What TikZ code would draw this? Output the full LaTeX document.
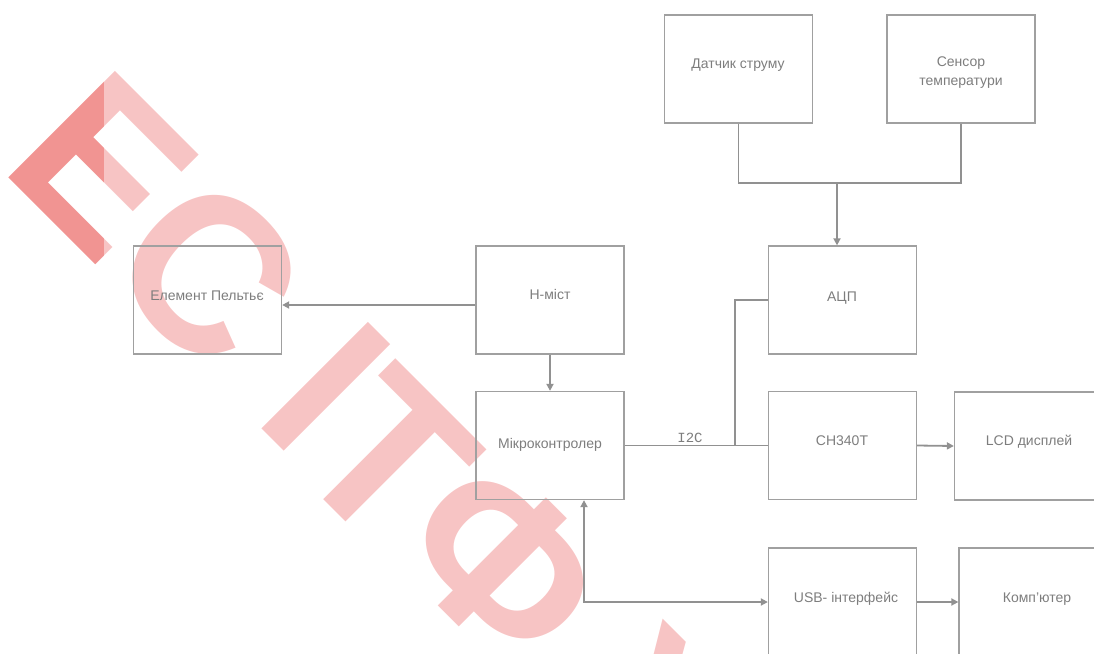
\documentclass[tikz,border=0pt]{standalone}
\usepackage{fontspec}
\setmainfont{Liberation Sans}
\newfontfamily\wmfont{Liberation Sans}
\newfontfamily\monofont{Liberation Mono}
\usetikzlibrary{arrows.meta,calc}
\definecolor{boxgray}{RGB}{160,160,160}
\definecolor{linegray}{RGB}{145,145,145}
\definecolor{txtgray}{RGB}{125,125,125}
\definecolor{wmlight}{RGB}{247,196,196}
\definecolor{wmdark}{RGB}{241,148,146}
\begin{document}
\begin{tikzpicture}[x=1pt,y=-1pt,
  box/.style={draw=boxgray,line width=1.3pt,minimum width=148pt,minimum height=108pt,inner sep=0pt},
  txt/.style={text=txtgray,font=\fontsize{14}{17}\selectfont,inner sep=0pt,text height=10pt,text depth=0pt},
  txtml/.style={text=txtgray,font=\fontsize{14}{19}\selectfont,inner sep=0pt,align=center},
  conn/.style={draw=linegray,line width=1.8pt},
  arr/.style={conn,-{Triangle[length=7pt,width=7pt]}},
  wm/.style={font=\wmfont\bfseries\fontsize{219}{219}\selectfont,inner sep=0pt,text height=150pt,text depth=0pt,rotate=-45,anchor=center}
]
\useasboundingbox (0,0) rectangle (1094,653);
% watermark
\begin{scope}
\clip (0,0) rectangle (1094,653);
\node[wm,text=wmlight] (w1) at (103,166) {Е};
\node[wm,text=wmlight] (w2) at (208,272) {С};
\node[wm,text=wmlight] (w3) at (326,387) {І};
\node[wm,text=wmlight] (w4) at (388,458) {Т};
\node[wm,text=wmlight] (w5) at (503,563) {Ф};
\node[wm,text=wmlight] (w6) at (658,721) {У};
\end{scope}
\begin{scope}
\clip (0,0) rectangle (103,653);
\node[wm,text=wmdark] (w1d) at (103,166) {Е};
\end{scope}
% boxes
\node[box] (pel) at (207.5,300) {};
\node[box] (hb)  at (550,300) {};
\node[box] (adc) at (842.5,300) {};
\node[box] (mcu) at (550,445.5) {};
\node[box] (ch)  at (842.5,445.5) {};
\node[box] (lcd) at (1028.5,446) {};
\node[box] (usb) at (842.5,602) {};
\node[box] (pc)  at (1033,602) {};
\node[box] (ds)  at (738.5,69) {};
\node[box] (ts)  at (961,69) {};
% texts
\node[txt] (pelT) at (207,295) {Елемент Пельтьє};
\node[txt] (hbT)  at (550,294) {H-міст};
\node[txt] (adcT) at (842,296) {АЦП};
\node[txt] (mcuT) at (550,443) {Мікроконтролер};
\node[txt] (chT)  at (842,440) {CH340T};
\node[txt] (lcdT) at (1029,440) {LCD дисплей};
\node[txt] (usbT) at (846,597) {USB- інтерфейс};
\node[txt] (pcT)  at (1037,597) {Комп'ютер};
\node[txt] (dsT)  at (738,63) {Датчик струму};
\node[txtml] (tsT) at (961,72.5) {Сенсор\\температури};
\node[text=txtgray,font=\monofont\fontsize{14}{16}\selectfont,inner sep=0pt] (i2c) at (690,438) {I2C};
% connectors
\draw[arr] ([yshift=-5pt]hb.west) -- ([yshift=-5pt]pel.east);
\draw[arr] (hb.south) -- (mcu.north);
\draw[conn] (mcu.east) -- (ch.west);
\coordinate (j1) at (735,445.5);
\draw[conn] (j1) |- (adc.west);
\coordinate (j2) at (837,183);
\draw[conn] (ds.south) |- (j2) -| (ts.south);
\draw[arr] (j2) -- (j2 |- adc.north);
\draw[arr] (ch.east) -- (lcd.west);
\draw[arr] (usb.east) -- (pc.west);
\draw[conn,{Triangle[length=7pt,width=7pt]}-{Triangle[length=7pt,width=7pt]}] ([xshift=34pt]mcu.south) |- (usb.west);
\end{tikzpicture}
\end{document}
